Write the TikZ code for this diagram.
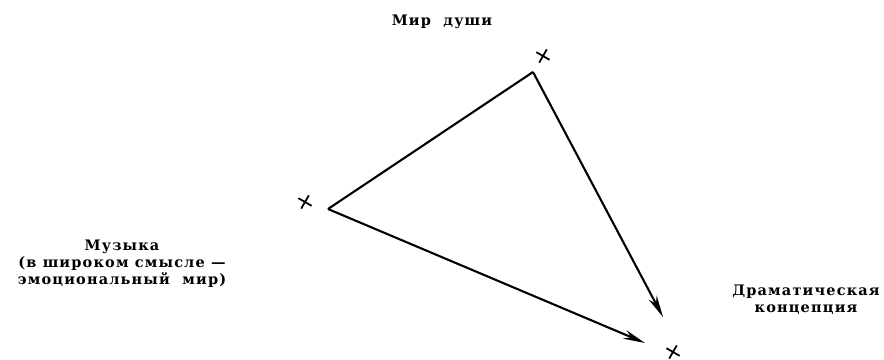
\documentclass[tikz,border=0pt]{standalone}
\usepackage{fontspec}
\setmainfont{DejaVu Serif}[LetterSpace=8]
\usetikzlibrary{arrows.meta,shapes.misc}
\tikzset{
  label text/.style={font=\fontsize{14.5}{17}\selectfont\bfseries, align=center, inner sep=0pt},
  mark cross/.style={cross out, draw, line width=1.8pt, minimum size=9pt, inner sep=0pt, rotate=15},
  edge line/.style={line width=2.1pt},
  edge arrow/.style={line width=2.1pt, -{Stealth[length=22pt,width=9pt]}}
}
\begin{document}
\begin{tikzpicture}[x=1pt,y=-1pt]
\useasboundingbox (0,0) rectangle (884,359);
\coordinate (soul) at (533,72);
\coordinate (music) at (328,209);
\coordinate (soulEnd) at (663,317);
\coordinate (musicEnd) at (645,343);
\node[mark cross] (soulX) at (543,56) {};
\node[mark cross] (musicX) at (305,202) {};
\node[mark cross] (dramaX) at (673,352) {};
\node[label text] (soulT) at (442,22) {Мир\ \ души};
\node[label text] (musicT) at (122,264) {Музыка\\(в широком смысле —\\эмоциональный\ \ мир)};
\node[label text] (dramaT) at (806,300) {Драматическая\\концепция};
\draw[edge line, line join=round] (music) -- (soul);
\draw[edge arrow] (soul) -- (soulEnd);
\draw[edge arrow] (music) -- (musicEnd);
\end{tikzpicture}
\end{document}
